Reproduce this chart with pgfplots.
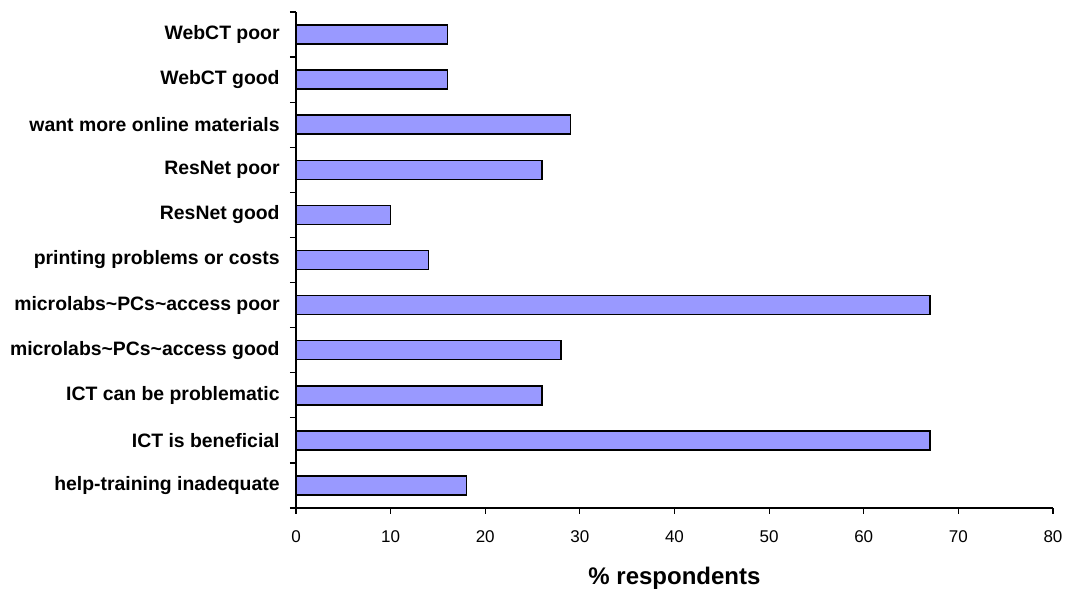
\documentclass[border=0pt]{standalone}
\usepackage{pgfplots}
\pgfplotsset{compat=1.18}
\usepackage{fontspec}
\setmainfont{Liberation Sans}
\definecolor{barblue}{RGB}{153,153,255}
\begin{document}
\begin{tikzpicture}
\begin{axis}[
  scale only axis,
  width=378.5pt, height=248pt,
  xbar,
  bar width=9.5pt,
  xmin=0, xmax=80,
  ymin=-0.5, ymax=10.5,
  axis x line*=bottom,
  axis y line*=left,
  axis line style={black, line width=0.6pt},
  xtick={0,10,...,80},
  xtick align=outside,
  major x tick style={black, line width=0.6pt},
  major tick length=3pt,
  ytick={0,...,10},
  yticklabels={help-training inadequate, ICT is beneficial, ICT can be problematic, microlabs\textasciitilde PCs\textasciitilde access good, microlabs\textasciitilde PCs\textasciitilde access poor, printing problems or costs, ResNet good, ResNet poor, want more online materials, WebCT good, WebCT poor},
  major y tick style={draw=none},
  minor ytick={-0.5,0.5,...,10.5},
  ytick align=outside,
  minor y tick style={black, line width=0.6pt},
  minor tick length=3pt,
  /pgf/number format/assume math mode=true,
  xticklabel style={font=\fontsize{8.5}{10}\selectfont, anchor=center, yshift=-11.5pt},
  yticklabel style={font=\fontsize{9.7}{11}\selectfont\bfseries, anchor=east, inner sep=0pt, xshift=-5pt},
  xlabel={\% respondents},
  xlabel style={font=\fontsize{12}{14}\selectfont\bfseries, at={(axis description cs:0.5,0)}, anchor=center, yshift=-35pt},
  clip=false,
]
\addplot[fill=barblue, draw=black, line width=0.8pt] coordinates {
  (18,0) (67,1) (26,2) (28,3) (67,4) (14,5) (10,6) (26,7) (29,8) (16,9) (16,10)
};
\end{axis}
\pgfresetboundingbox
\path (-148pt,-42.5pt) rectangle (386.5pt,254pt);
\end{tikzpicture}
\end{document}
